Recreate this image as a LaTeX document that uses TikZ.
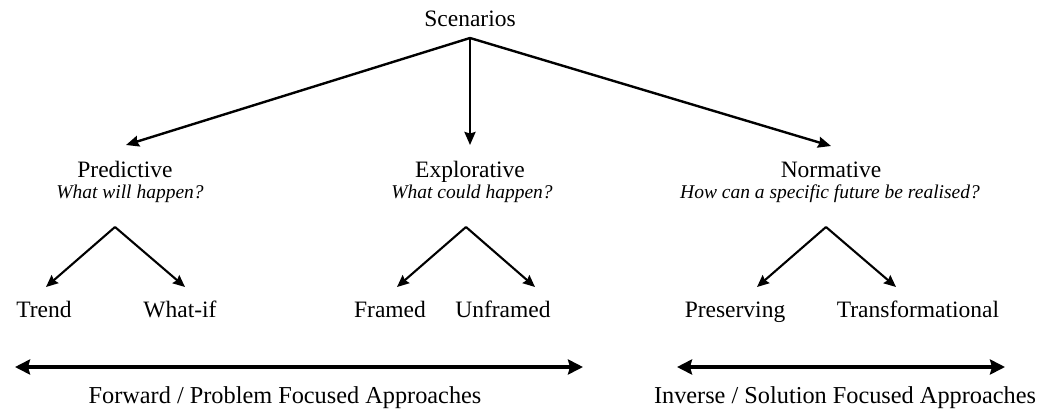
\documentclass[tikz,border=0pt]{standalone}
\usepackage{fontspec}
\setmainfont{Liberation Serif}
\usetikzlibrary{arrows.meta}
\begin{document}
\begin{tikzpicture}[x=1pt,y=-1pt,
  lbl/.style={font=\fontsize{23.5}{27}\selectfont, inner sep=0pt, anchor=base},
  axlbl/.style={font=\fontsize{24.3}{28}\selectfont, inner sep=0pt, anchor=base},
  q/.style={font=\fontsize{19.5}{23}\selectfont\itshape, inner sep=0pt, anchor=base},
  mainconn/.style={line width=2.4pt, -{Stealth[length=13pt,width=11pt,inset=1.5pt]}},
  conn/.style={line width=2.1pt, -{Stealth[length=12pt,width=10.5pt,inset=1.5pt]}},
  axisarrow/.style={line width=4pt, {Stealth[length=15pt,width=15pt,inset=2pt]}-{Stealth[length=15pt,width=15pt,inset=2pt]}}]
\useasboundingbox (0,0) rectangle (1039,413);

% top level
\node[lbl] (scen) at (470,26) {Scenarios};
\coordinate (top) at (470,38);

\node[lbl] (pred) at (125,177) {Predictive};
\node[q]   (predq) at (130,198) {What will happen?};
\node[lbl] (expl) at (470,177) {Explorative};
\node[q]   (explq) at (472,198) {What could happen?};
\node[lbl] (norm) at (831,177) {Normative};
\node[q]   (normq) at (830,198) {How can a specific future be realised?};

\coordinate (tp) at (126,145);
\coordinate (te) at (470,145);
\coordinate (tn) at (831,146);
\draw[mainconn] (top) -- (tp);
\draw[mainconn] (top) -- (te);
\draw[mainconn] (top) -- (tn);

% sub levels
\coordinate (pa) at (115,227);
\coordinate (ea) at (466,227);
\coordinate (na) at (826,227);
\coordinate (pl) at (46,287);
\coordinate (pr) at (185,287);
\coordinate (el) at (397,287);
\coordinate (er) at (535,287);
\coordinate (nl) at (757,287);
\coordinate (nr) at (896,287);
\draw[conn] (pa) -- (pl);
\draw[conn] (pa) -- (pr);
\draw[conn] (ea) -- (el);
\draw[conn] (ea) -- (er);
\draw[conn] (na) -- (nl);
\draw[conn] (na) -- (nr);

\node[lbl] (trend) at (44,317) {Trend};
\node[lbl] (whatif) at (180,317) {What-if};
\node[lbl] (framed) at (390,317) {Framed};
\node[lbl] (unframed) at (503,317) {Unframed};
\node[lbl] (pres) at (735,317) {Preserving};
\node[lbl] (trans) at (918,317) {Transformational};

% bottom axes
\coordinate (fl) at (15,367);
\coordinate (fr) at (583,367);
\coordinate (il) at (677,367);
\coordinate (ir) at (1005,367);
\draw[axisarrow] (fl) -- (fr);
\draw[axisarrow] (il) -- (ir);

\node[axlbl] (fwd) at (285,403) {Forward / Problem Focused Approaches};
\node[axlbl] (inv) at (845,403) {Inverse / Solution Focused Approaches};
\end{tikzpicture}
\end{document}
